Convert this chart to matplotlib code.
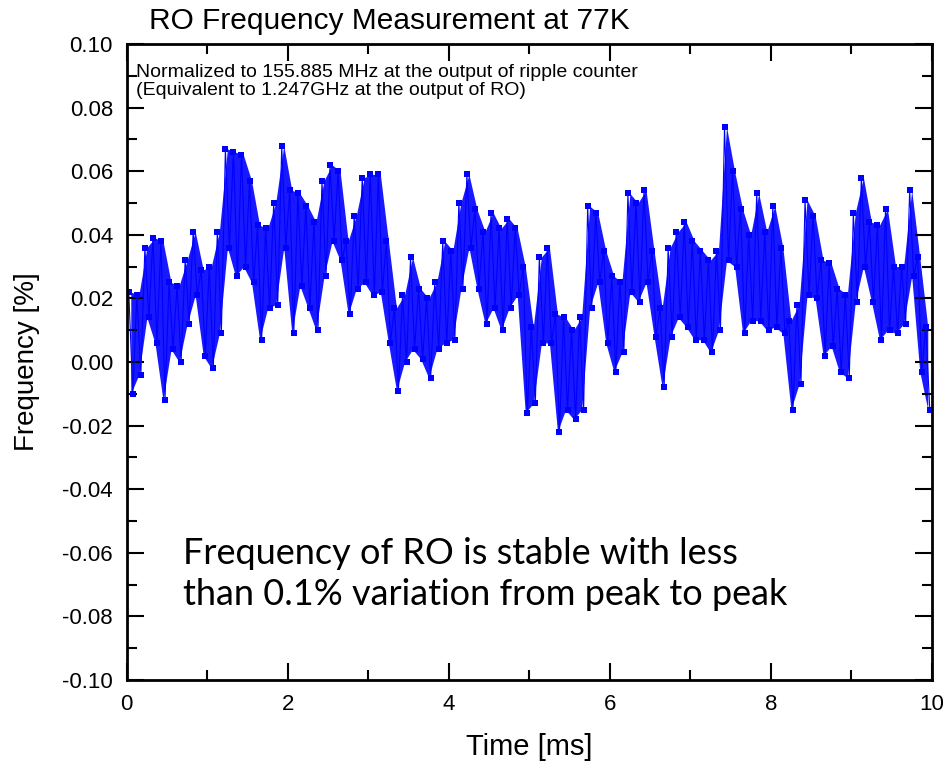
import numpy as np
import matplotlib
matplotlib.use("Agg")
import matplotlib.pyplot as plt
from matplotlib.ticker import MultipleLocator, FuncFormatter

bin_start = np.arange(0, 10, 0.1)
upper = [0.022, 0.021, 0.036, 0.039, 0.038, 0.025, 0.024, 0.032, 0.041, 0.029,
         0.030, 0.041, 0.067, 0.066, 0.065, 0.057, 0.043, 0.042, 0.050, 0.068,
         0.054, 0.053, 0.049, 0.044, 0.057, 0.062, 0.060, 0.038, 0.046, 0.058,
         0.059, 0.059, 0.038, 0.017, 0.021, 0.033, 0.023, 0.020, 0.025, 0.038,
         0.035, 0.050, 0.059, 0.048, 0.041, 0.047, 0.042, 0.045, 0.042, 0.030,
         0.011, 0.033, 0.036, 0.015, 0.014, 0.010, 0.014, 0.049, 0.047, 0.035,
         0.027, 0.025, 0.053, 0.050, 0.054, 0.035, 0.017, 0.036, 0.041, 0.044,
         0.038, 0.035, 0.032, 0.035, 0.074, 0.060, 0.048, 0.040, 0.053, 0.041,
         0.049, 0.036, 0.013, 0.018, 0.051, 0.046, 0.032, 0.031, 0.023, 0.021,
         0.047, 0.058, 0.044, 0.043, 0.048, 0.030, 0.030, 0.054, 0.033, 0.011]
lower = [-0.010, -0.004, 0.014, 0.006, -0.012, 0.004, 0.000, 0.012, 0.021, 0.002,
         -0.002, 0.009, 0.036, 0.027, 0.030, 0.025, 0.007, 0.017, 0.018, 0.036,
         0.009, 0.024, 0.017, 0.010, 0.027, 0.038, 0.032, 0.015, 0.023, 0.025,
         0.021, 0.022, 0.006, -0.009, 0.000, 0.004, 0.001, -0.005, 0.004, 0.006,
         0.007, 0.023, 0.036, 0.023, 0.012, 0.017, 0.010, 0.017, 0.021, -0.016,
         -0.013, 0.006, 0.006, -0.022, -0.015, -0.018, -0.015, 0.017, 0.025, 0.006,
         -0.003, 0.003, 0.022, 0.019, 0.025, 0.008, -0.008, 0.008, 0.014, 0.011,
         0.007, 0.007, 0.003, 0.010, 0.032, 0.030, 0.009, 0.013, 0.013, 0.010,
         0.011, 0.009, -0.015, -0.007, 0.021, 0.020, 0.002, 0.005, -0.003, -0.005,
         0.019, 0.030, 0.019, 0.007, 0.010, 0.009, 0.012, 0.027, -0.003, -0.015]

# interleave high and low readings so the trace zig-zags through the band
t = np.column_stack([bin_start + 0.025, bin_start + 0.075]).ravel()
freq = np.column_stack([upper, lower]).ravel()

plt.rcParams['font.family'] = ['Liberation Sans', 'DejaVu Sans']

fig = plt.figure(figsize=(9.46, 7.62), dpi=100)
ax = fig.add_axes([0.134, 0.1076, 0.851, 0.8347])

ax.fill_between(bin_start + 0.05, upper, lower, color='#0000ff',
                alpha=0.9, linewidth=0)
ax.plot(t, freq, color='#0000ff', linewidth=0.8, marker='s', markersize=4,
        markeredgewidth=0)

ax.set_xlim(0, 10)
ax.set_ylim(-0.10, 0.10)
ax.xaxis.set_major_locator(MultipleLocator(2))
ax.xaxis.set_minor_locator(MultipleLocator(1))
ax.yaxis.set_major_locator(MultipleLocator(0.02))
ax.yaxis.set_minor_locator(MultipleLocator(0.01))
ax.yaxis.set_major_formatter(FuncFormatter(lambda v, p: '%.2f' % (0.0 if abs(v) < 1e-9 else v)))
ax.tick_params(which='both', direction='in', top=True, right=True, width=1.5,
               labelsize=16)
ax.tick_params(which='major', length=12, pad=10)
ax.tick_params(which='minor', length=7)
for s in ax.spines.values():
    s.set_linewidth(2)

ax.set_xlabel('Time [ms]', fontsize=21, labelpad=13)
ax.set_ylabel('Frequency [%]', fontsize=20, labelpad=16)
fig.text(0.412, 0.972, 'RO Frequency Measurement at 77K', fontsize=21.5,
         ha='center', va='center')

ax.text(0.012, 0.968, 'Normalized to 155.885 MHz at the output of ripple counter\n'
        '(Equivalent to 1.247GHz at the output of RO)', transform=ax.transAxes,
        fontsize=14, ha='left', va='top', linespacing=1.05)

ax.text(0.07, 0.167, 'Frequency of RO is stable with less\n'
        'than 0.1% variation from peak to peak', transform=ax.transAxes,
        fontsize=26, ha='left', va='center', family=['Lato', 'DejaVu Sans'],
        linespacing=1.3)

fig.savefig('out.png', dpi=100)
